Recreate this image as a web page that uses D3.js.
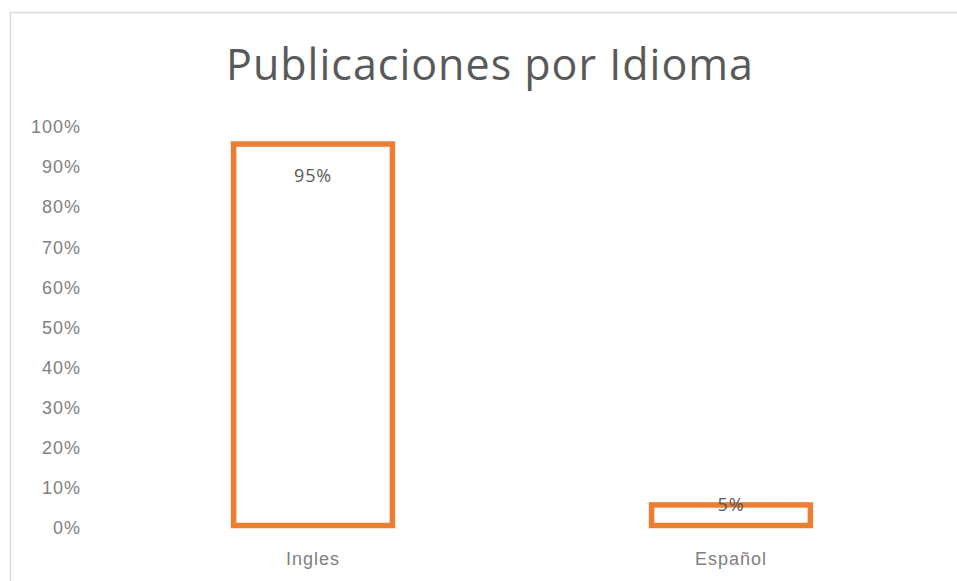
<!DOCTYPE html>
<html lang="es">
<head>
<meta charset="UTF-8">
<script src="https://d3js.org/d3.v7.min.js"></script>
<style>
  body { margin: 0; background: #fff; }
  svg { display: block; font-family: "Open Sans", sans-serif; }
  .tick-label { fill: #808080; font-size: 18px; letter-spacing: 1px; }
  .cat-label { fill: #808080; font-size: 18px; letter-spacing: 1px; }
  .value-label { fill: #595959; font-size: 18px; letter-spacing: 0.8px; }
  .bar { fill: none; stroke: #ed7d31; stroke-width: 5.5px; }
</style>
</head>
<body>
<script>
// data
var categories = ["Ingles", "Español"];
var values = [0.95, 0.05];
var yTicks = [0, 0.1, 0.2, 0.3, 0.4, 0.5, 0.6, 0.7, 0.8, 0.9, 1.0];
var title = "Publicaciones por Idioma";

var W = 957, H = 581;
var plot = {left: 104, right: 940, top: 127, bottom: 528};

var svg = d3.select("body").append("svg")
  .attr("width", W)
  .attr("height", H);

// chart frame (cut off at right and bottom)
svg.append("rect")
  .attr("x", 10.5).attr("y", 12.5)
  .attr("width", 1000).attr("height", 1000)
  .attr("fill", "none")
  .attr("stroke", "#d9d9d9")
  .attr("stroke-width", 1.5);

var x = d3.scaleBand()
  .domain(categories)
  .range([plot.left, plot.right])
  .paddingInner(0.62)
  .paddingOuter(0.31);

var y = d3.scaleLinear()
  .domain([0, 1])
  .range([plot.bottom, plot.top]);

var pct = d3.format(".0%");

// title
svg.append("text")
  .attr("x", 490)
  .attr("y", 80)
  .attr("text-anchor", "middle")
  .attr("fill", "#595959")
  .style("font-size", "43px")
  .style("letter-spacing", "1px")
  .text(title);

// y axis labels (no line, no gridlines)
var yAxis = d3.axisLeft(y).tickValues(yTicks).tickFormat(pct).tickSize(0).tickPadding(0);
var gy = svg.append("g")
  .attr("transform", "translate(81,0)")
  .call(yAxis);
gy.select(".domain").remove();
gy.selectAll("text").attr("class", "tick-label").attr("fill", null).attr("font-size", null).attr("font-family", null);

// x axis labels
var xAxis = d3.axisBottom(x).tickSize(0).tickPadding(0);
var gx = svg.append("g")
  .attr("transform", "translate(0,552)")
  .call(xAxis);
gx.select(".domain").remove();
gx.selectAll("text").attr("class", "cat-label").attr("fill", null).attr("font-size", null).attr("font-family", null);

// bars (outline only)
svg.selectAll(".bar")
  .data(values)
  .enter().append("rect")
  .attr("class", "bar")
  .attr("x", function(d, i) { return x(categories[i]); })
  .attr("width", x.bandwidth())
  .attr("y", function(d) { return y(d) - 3; })
  .attr("height", function(d) { return y(0) - y(d) + 0.5; });

// value labels
svg.selectAll(".value-label")
  .data(values)
  .enter().append("text")
  .attr("class", "value-label")
  .attr("text-anchor", "middle")
  .attr("x", function(d, i) { return x(categories[i]) + x.bandwidth() / 2; })
  .attr("y", function(d) { return d > 0.5 ? y(d) + 35 : y(d) + 3; })
  .text(function(d) { return pct(d); });
</script>
</body>
</html>
